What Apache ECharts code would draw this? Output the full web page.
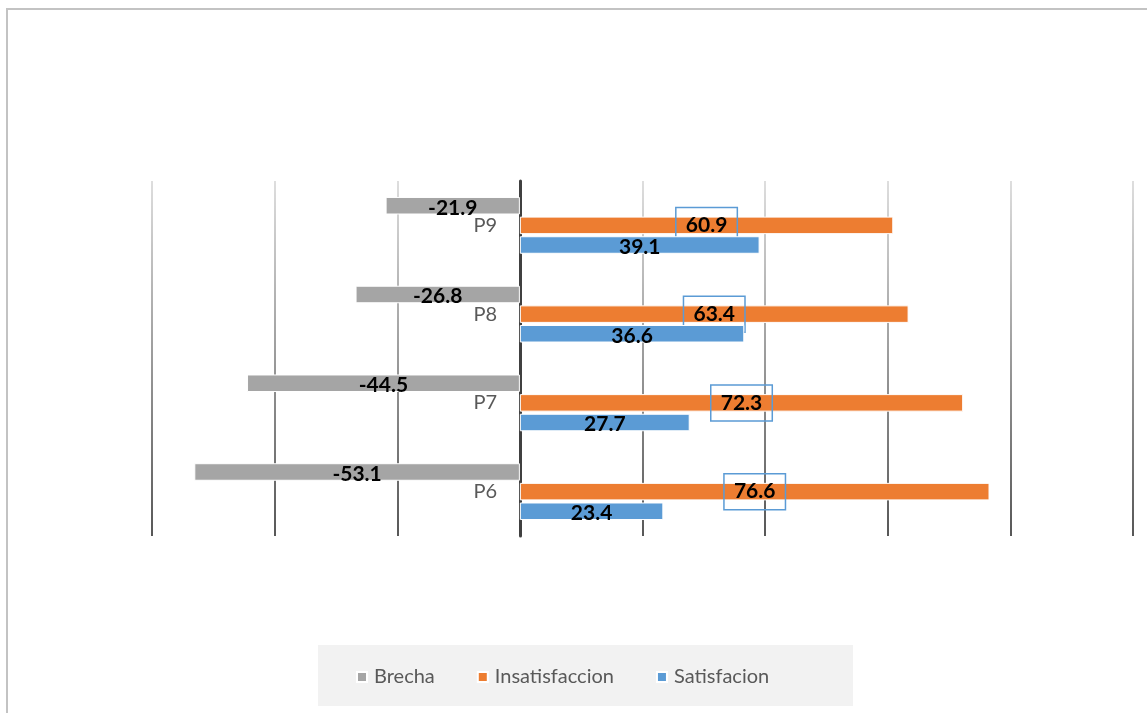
<!DOCTYPE html>
<html>
<head>
<meta charset="utf-8">
<script src="https://cdn.jsdelivr.net/npm/echarts@6/dist/echarts.min.js"></script>
<style>
html,body{margin:0;padding:0;background:#fff;}
#chart{width:1147px;height:713px;}
</style>
</head>
<body>
<div id="chart"></div>
<script>
var categories = ['P6', 'P7', 'P8', 'P9'];
var brecha = [-53.1, -44.5, -26.8, -21.9];
var insatisfaccion = [76.6, 72.3, 63.4, 60.9];
var satisfacion = [23.4, 27.7, 36.6, 39.1];
var seriesNames = ['Brecha', 'Insatisfaccion', 'Satisfacion'];

var chart = echarts.init(document.getElementById('chart'));
var labelBase = {
  show: true,
  position: 'inside',
  color: '#000',
  fontFamily: 'Lato',
  fontWeight: 'bold',
  fontSize: 21,
  offset: [0, 2],
  formatter: function (p) { return p.value.toFixed(1); }
};
var gridColor = new echarts.graphic.LinearGradient(0, 0, 0, 1, [
  {offset: 0, color: '#d4d4d4'},
  {offset: 1, color: '#1e1e1e'}
]);
chart.setOption({
  animation: false,
  textStyle: {fontFamily: 'Lato'},
  graphic: [
    {type: 'rect', shape: {x: 7, y: 9, width: 1300, height: 900},
     style: {fill: 'none', stroke: '#c3c3c3', lineWidth: 2}, z: -10},
    {type: 'rect', shape: {x: 318, y: 645, width: 535, height: 61},
     style: {fill: '#f2f2f2'}, z: -5}
  ],
  grid: {left: 152, right: 14, top: 181, bottom: 177, containLabel: false},
  legend: {
    data: seriesNames,
    left: 351, top: 662,
    itemWidth: 10, itemHeight: 10, itemGap: 42,
    icon: 'rect',
    textStyle: {fontFamily: 'Lato', fontSize: 20, color: '#595959', padding: [0, 0, 0, 2]}
  },
  xAxis: {
    type: 'value', min: -60, max: 100, interval: 20,
    axisLabel: {show: false}, axisTick: {show: false}, axisLine: {show: false},
    splitLine: {show: true, lineStyle: {color: gridColor, width: 1.5}}
  },
  yAxis: {
    type: 'category', data: categories,
    axisTick: {show: false},
    axisLine: {show: true, onZero: true, lineStyle: {color: '#404040', width: 3}},
    axisLabel: {color: '#595959', fontSize: 20, fontFamily: 'Lato', margin: -345, align: 'right', verticalAlign: 'middle'}
  },
  series: [
    {name: 'Brecha', type: 'bar', data: brecha, z: 2,
     barGap: '12%', barCategoryGap: '36%',
     itemStyle: {color: '#a5a5a5', borderColor: '#fff', borderWidth: 1},
     label: labelBase},
    {name: 'Insatisfaccion', type: 'bar', data: insatisfaccion, z: 2,
     itemStyle: {color: '#ed7d31', borderColor: '#fff', borderWidth: 1},
     label: Object.assign({}, labelBase, {
       borderColor: '#5b9bd5', borderWidth: 1.5, padding: [9, 10, 7, 10], lineHeight: 20, offset: [0, 0]
     })},
    {name: 'Satisfacion', type: 'bar', data: satisfacion, z: 3,
     itemStyle: {color: '#5b9bd5', borderColor: '#fff', borderWidth: 1},
     label: labelBase}
  ]
});
</script>
</body>
</html>
